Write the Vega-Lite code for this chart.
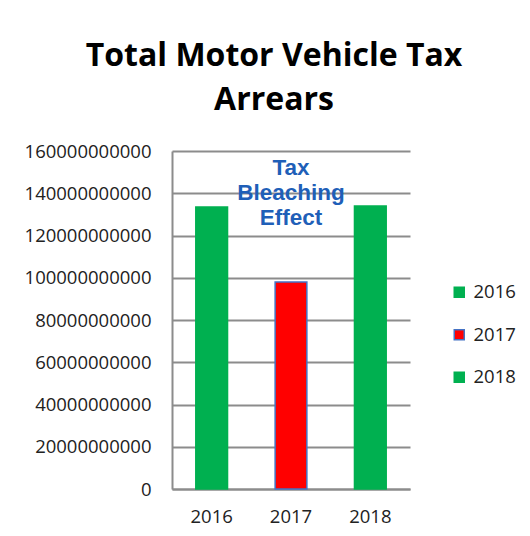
{
  "$schema": "https://vega.github.io/schema/vega-lite/v6.json",
  "width": 238,
  "height": 338,
  "autosize": {"type": "none"},
  "padding": {"left": 172, "top": 151, "right": 120, "bottom": 47},
  "background": "white",
  "title": {
    "text": ["Total Motor Vehicle Tax", "Arrears"],
    "font": "Open Sans",
    "fontWeight": "bold",
    "fontSize": 32,
    "lineHeight": 44,
    "color": "#000000",
    "anchor": "middle",
    "dx": -17,
    "offset": 25
  },
  "config": {
    "view": {"stroke": null},
    "axis": {"labelFont": "Open Sans", "labelFontSize": 18.5, "labelColor": "#222222"},
    "legend": {"labelFont": "Open Sans", "labelFontSize": 18.5, "labelColor": "#222222"}
  },
  "layer": [
    {
      "data": {"values": [
        {"year": "2016", "arrears": 133500000000},
        {"year": "2017", "arrears": 98000000000},
        {"year": "2018", "arrears": 134000000000}
      ]},
      "mark": {"type": "bar", "strokeWidth": 1.5},
      "encoding": {
        "x": {"field": "year", "type": "nominal", "scale": {"paddingInner": 0.6, "paddingOuter": 0.3},
          "axis": {"title": null, "labelAngle": 0, "ticks": false, "labelPadding": 18, "domainColor": "#8c8c8c", "domainWidth": 2}},
        "y": {"field": "arrears", "type": "quantitative", "scale": {"domain": [0, 160000000000]},
          "axis": {"title": null, "values": [0,20000000000,40000000000,60000000000,80000000000,100000000000,120000000000,140000000000,160000000000], "format": "d", "ticks": false, "labelOverlap": false, "labelPadding": 21, "gridColor": "#8c8c8c", "gridWidth": 1.8, "domainColor": "#8c8c8c", "domainWidth": 2}},
        "color": {"field": "year", "type": "nominal",
          "scale": {"domain": ["2016","2017","2018"], "range": ["#00B050","#FF0000","#00B050"]},
          "legend": {"title": null, "orient": "none", "legendX": 278, "legendY": 132, "symbolType": "square", "symbolSize": 100, "rowPadding": 23.5, "symbolStrokeWidth": 1.5, "labelOffset": 5}},
        "stroke": {"field": "year", "type": "nominal",
          "scale": {"domain": ["2016","2017","2018"], "range": ["#00B050","#4472C4","#00B050"]},
          "legend": {"title": null, "orient": "none", "legendX": 278, "legendY": 132, "symbolType": "square", "symbolSize": 100, "rowPadding": 23.5, "symbolStrokeWidth": 1.5, "labelOffset": 5}}
      }
    },
    {
      "data": {"values": [{"year": "2017", "pos": 152000000000, "label": ["Tax", "Bleaching", "Effect"]}]},
      "mark": {"type": "text", "font": "Liberation Sans", "fontWeight": "bold", "fontSize": 22.5, "lineHeight": 25, "color": "#1F5FB8", "baseline": "middle", "align": "center"},
      "encoding": {
        "x": {"field": "year", "type": "nominal"},
        "y": {"field": "pos", "type": "quantitative"},
        "text": {"field": "label"}
      }
    }
  ]
}
